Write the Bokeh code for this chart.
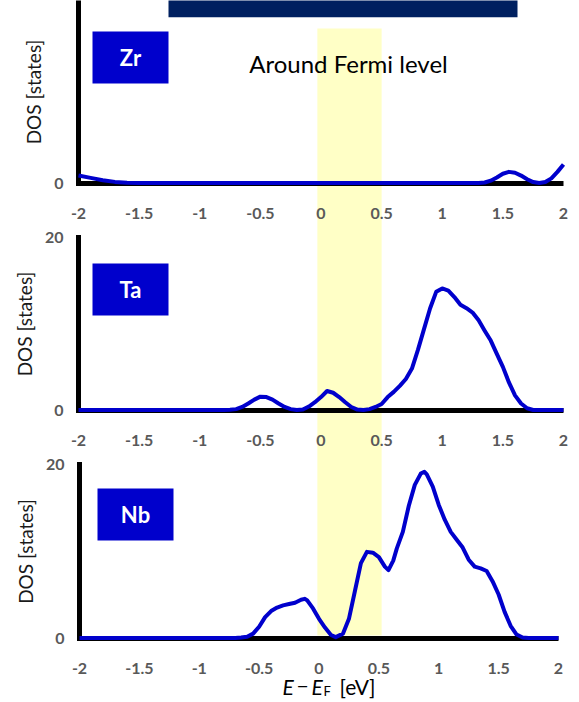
from bokeh.plotting import figure
from bokeh.models import Range1d, LinearAxis, FixedTicker, BoxAnnotation, Label
from bokeh.embed import file_html
from bokeh.resources import INLINE

# ---------------- data ----------------
energy_ticks = [-2, -1.5, -1, -0.5, 0, 0.5, 1, 1.5, 2]
energy_tick_labels = ["-2", "-1.5", "-1", "-0.5", "0", "0.5", "1", "1.5", "2"]
dos_ticks = [0, 20]
dos_tick_labels = ["0", "20"]

zr_energy = [-2.0, -1.9, -1.8, -1.7, -1.6, -1.5, 1.3, 1.35, 1.4, 1.45, 1.5, 1.55,
             1.6, 1.65, 1.7, 1.75, 1.8, 1.85, 1.9, 1.95, 2.0]
zr_dos = [0.8, 0.55, 0.3, 0.12, 0.03, 0.0, 0.0, 0.05, 0.25, 0.6, 1.0, 1.2,
          1.1, 0.8, 0.4, 0.1, 0.0, 0.1, 0.5, 1.2, 2.0]

ta_energy = [-2.0, -0.8, -0.75, -0.7, -0.65, -0.6, -0.55, -0.5, -0.45, -0.4, -0.35,
             -0.3, -0.25, -0.2, -0.15, -0.1, -0.05, 0.0, 0.05, 0.1, 0.15, 0.2,
             0.25, 0.3, 0.35, 0.4, 0.45, 0.5, 0.55, 0.6, 0.65, 0.7, 0.75, 0.8,
             0.85, 0.9, 0.95, 1.0, 1.05, 1.1, 1.15, 1.2, 1.25, 1.3, 1.35, 1.4,
             1.45, 1.5, 1.55, 1.6, 1.65, 1.7, 1.75, 2.0]
ta_dos = [0.0, 0.0, 0.02, 0.1, 0.35, 0.75, 1.2, 1.55, 1.5, 1.2, 0.75,
          0.35, 0.1, 0.0, 0.05, 0.4, 0.9, 1.5, 2.2, 2.0, 1.5, 0.9,
          0.35, 0.05, 0.0, 0.1, 0.35, 0.7, 1.5, 2.1, 2.8, 3.6, 4.8, 7.0,
          9.4, 11.8, 13.7, 14.1, 13.85, 13.1, 12.2, 11.8, 11.3, 10.4, 9.2, 8.05,
          6.5, 5.0, 3.2, 1.7, 0.75, 0.2, 0.0, 0.0]

nb_energy = [-2.0, -0.7, -0.65, -0.6, -0.55, -0.5, -0.45, -0.4, -0.35, -0.3, -0.25,
             -0.2, -0.15, -0.12, -0.1, -0.05, 0.0, 0.05, 0.1, 0.14, 0.2, 0.25,
             0.3, 0.35, 0.4, 0.45, 0.5, 0.55, 0.58, 0.62, 0.65, 0.7, 0.75, 0.8,
             0.85, 0.88, 0.9, 0.95, 1.0, 1.05, 1.1, 1.15, 1.2, 1.25, 1.3, 1.35,
             1.4, 1.45, 1.5, 1.55, 1.6, 1.65, 1.7, 1.75, 2.0]
nb_dos = [0.0, 0.0, 0.05, 0.15, 0.5, 1.3, 2.4, 3.1, 3.5, 3.75, 3.9,
          4.05, 4.4, 4.5, 4.35, 3.4, 2.2, 1.2, 0.35, 0.1, 0.5, 2.2,
          5.4, 8.6, 9.9, 9.8, 9.3, 8.2, 7.8, 8.9, 10.3, 12.2, 15.2, 17.6,
          18.9, 19.1, 18.8, 17.4, 15.3, 13.6, 12.2, 11.3, 10.4, 9.0, 8.2, 8.0,
          7.7, 6.5, 5.0, 3.0, 1.4, 0.4, 0.05, 0.0, 0.0]

elements = ["Zr", "Ta", "Nb"]
fermi_window = (-0.03, 0.5)

# ---------------- layout helpers (page pixel geometry) ----------------
W, H = 579, 702
OX, OY = 0, 0


def x_range_for(px_m2, px_p2):
    k = (px_p2 - px_m2) / 4.0
    return Range1d(-2 - (px_m2 - OX) / k, 2 + (OX + W - px_p2) / k)


def y_range_for(py0, py20):
    k = (py0 - py20) / 20.0
    return Range1d(-(OY + H - py0) / k, (py0 - OY) / k)


p = figure(width=W, height=H, output_backend="svg", toolbar_location=None,
           x_axis_location=None, y_axis_location=None, min_border=0,
           x_range=x_range_for(78, 563), y_range=Range1d(OY + H, OY))
p.outline_line_color = None
p.background_fill_color = "white"
p.border_fill_color = "white"
p.xgrid.visible = False
p.ygrid.visible = False

p.extra_x_ranges = {"px": Range1d(OX, OX + W), "nbx": x_range_for(79, 558)}
p.extra_y_ranges = {"zr": y_range_for(182.5, -3),
                    "ta": y_range_for(409.5, 237),
                    "nb": y_range_for(637.5, 463.5)}

BLUE = "#0000CC"

# Fermi window band (spans all three panels)
p.add_layout(BoxAnnotation(left=fermi_window[0], right=fermi_window[1], top=28, bottom=635,
                           y_range_name="default", fill_color="#FFFFC6", fill_alpha=1.0,
                           line_color=None, level="underlay"))

# dark header bar (cut off at top)
p.add_layout(BoxAnnotation(left=168, right=517, top=-10, bottom=16.7,
                           x_range_name="px", fill_color="#002060", fill_alpha=1.0,
                           line_color=None))

panels = [
    ("Zr", zr_energy, zr_dos, "default", "zr", (92, 168, 31, 83)),
    ("Ta", ta_energy, ta_dos, "default", "ta", (92, 168, 263, 315)),
    ("Nb", nb_energy, nb_dos, "nbx", "nb", (97, 173, 488, 540)),
]

tick_over = dict(zip(energy_ticks, energy_tick_labels))
dos_over = dict(zip(dos_ticks, dos_tick_labels))

for name, en, dos, xname, yname, box in panels:
    xa = LinearAxis(x_range_name=xname, y_range_name=yname, fixed_location=0,
                    bounds=(-2, 2), ticker=FixedTicker(ticks=energy_ticks),
                    major_label_overrides=tick_over)
    xa.axis_line_width = 5
    xa.axis_line_color = "black"
    xa.major_tick_line_color = None
    xa.minor_tick_line_color = None
    xa.major_label_standoff = 19
    xa.major_label_text_font = "Lato"
    xa.major_label_text_font_style = "bold"
    xa.major_label_text_font_size = "16px"
    xa.major_label_text_color = "#595959"
    p.add_layout(xa, "below")

    ya = LinearAxis(x_range_name=xname, y_range_name=yname, fixed_location=-2,
                    bounds=(0, 20), ticker=FixedTicker(ticks=dos_ticks),
                    major_label_overrides=dos_over, axis_label="DOS [states]")
    ya.axis_line_width = 5
    ya.axis_line_color = "black"
    ya.axis_line_cap = "square"
    ya.major_tick_line_color = None
    ya.minor_tick_line_color = None
    ya.major_label_standoff = 9
    ya.major_label_text_font = "Lato"
    ya.major_label_text_font_style = "bold"
    ya.major_label_text_font_size = "16px"
    ya.major_label_text_color = "#595959"
    ya.axis_label_standoff = 6
    ya.axis_label_text_font = "Lato"
    ya.axis_label_text_font_style = "normal"
    ya.axis_label_text_font_size = "19px"
    ya.axis_label_text_color = "#1a1a1a"
    p.add_layout(ya, "left")

    p.line(en, dos, x_range_name=xname, y_range_name=yname, line_color=BLUE,
           line_width=4, line_join="round", level="overlay")

    l, r, t, b = box
    p.add_layout(BoxAnnotation(left=l, right=r, top=t, bottom=b, x_range_name="px",
                               fill_color=BLUE, fill_alpha=1.0, line_color=None))
    p.add_layout(Label(x=(l + r) / 2, y=(t + b) / 2, text=name, x_range_name="px",
                       text_align="center", text_baseline="middle", text_color="white",
                       text_font="Lato", text_font_style="bold", text_font_size="22px"))

p.add_layout(Label(x=348, y=63, text="Around Fermi level", x_range_name="px",
                   text_align="center", text_baseline="middle", text_color="black",
                   text_font="Lato", text_font_size="24px"))

# x-axis title: E − E_F [eV]
title_parts = [
    (282, 686, "E", "italic", "21px"),
    (296, 686, "\u2212", "normal", "21px"),
    (311, 686, "E", "italic", "21px"),
    (323, 690, "F", "normal", "13px"),
    (339, 686, "[eV]", "normal", "21px"),
]
for x, y, txt, style, size in title_parts:
    p.add_layout(Label(x=x, y=y, text=txt, x_range_name="px", text_align="left",
                       text_baseline="alphabetic", text_color="black", text_font="Lato",
                       text_font_style=style, text_font_size=size))

open("out.html", "w").write(file_html(p, INLINE))
